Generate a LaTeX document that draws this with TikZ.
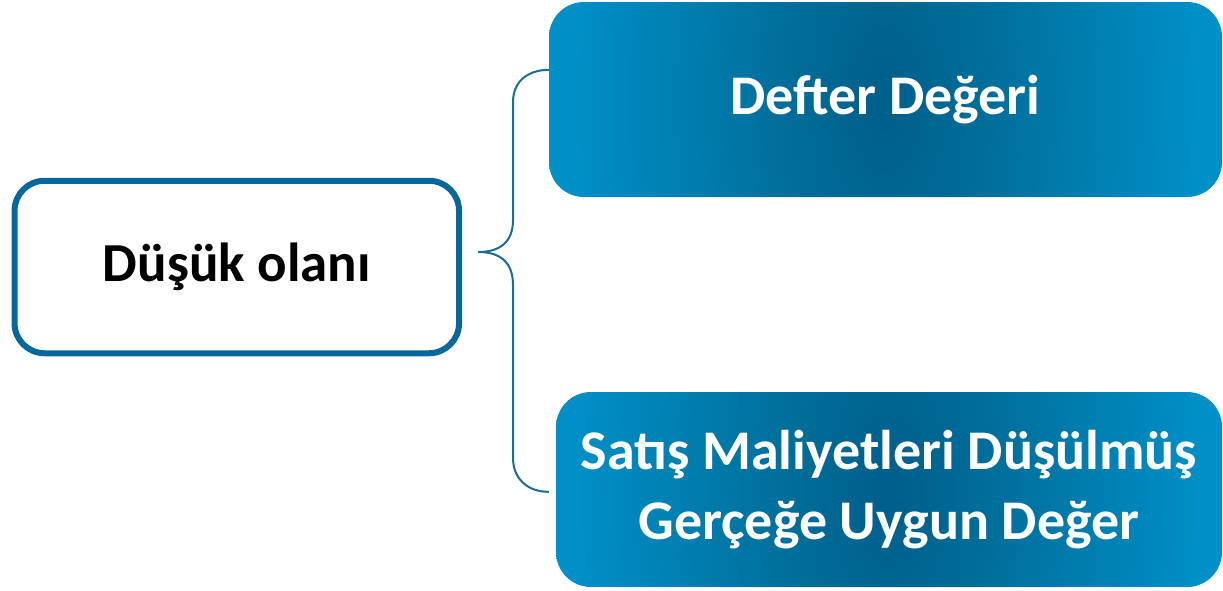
\documentclass[tikz,border=0pt]{standalone}
\usepackage{fontspec}
\setmainfont{Carlito}
\usetikzlibrary{calc}
\definecolor{framecol}{HTML}{05679B}
\definecolor{bracecol}{HTML}{1A6C9C}
\definecolor{glowdark}{HTML}{005E8A}
\definecolor{glowmidA}{HTML}{006D99}
\definecolor{glowmidB}{HTML}{008FC7}
\definecolor{glowlight}{HTML}{009DD8}
\pgfdeclareradialshading{boxglow}{\pgfpoint{0bp}{0bp}}{color(0bp)=(glowdark); color(7bp)=(glowmidA); color(23bp)=(glowmidB); color(50bp)=(glowlight)}
\tikzset{
  mainbox/.style={draw=framecol, line width=6pt, fill=white, rounded corners=30pt,
    minimum width=444.5pt, minimum height=172.5pt, inner sep=0pt,
    font=\fontsize{55}{66}\selectfont\bfseries},
  glowbox/.style={rounded corners=35pt, minimum height=195pt, inner sep=0pt,
    text=white, align=center, font=\fontsize{56}{70}\selectfont\bfseries,
    path picture={\shade[shading=boxglow] (path picture bounding box.center) ellipse (340pt and 700pt);}},
  bracket/.style={draw=bracecol, line width=2pt}
}
\begin{document}
\begin{tikzpicture}[x=1pt,y=-1pt]
\useasboundingbox (0,0) rectangle (1223,590);
\node[mainbox] (low) at (236.8,267) {Düşük olanı};
\node[glowbox, minimum width=673pt] (book) at (885.5,99.5) {Defter Değeri};
\node[glowbox, minimum width=666pt] (fair) at (889,489.5) {Satış Maliyetleri Düşülmüş\\Gerçeğe Uygun Değer};
\coordinate (tip) at ($(low.east)+(16,-15)$);
\coordinate (topend) at ($(book.north west)+(0,68)$);
\coordinate (botend) at ($(fair.north west)+(-7,100)$);
\draw[bracket] (tip) .. controls (500,252) and (513,242) .. (513,220) -- (513,102)
  .. controls (513,82) and (527,70) .. (topend);
\draw[bracket] (tip) .. controls (500,252) and (513,262) .. (513,285) -- (513,458)
  .. controls (513,478) and (527,492) .. (botend);
\end{tikzpicture}
\end{document}
